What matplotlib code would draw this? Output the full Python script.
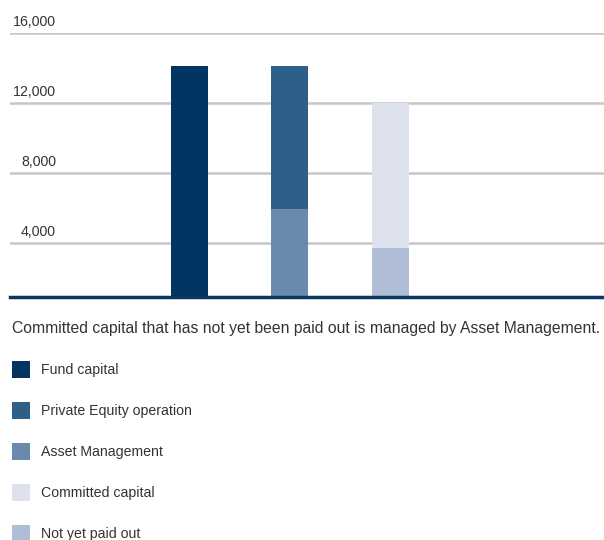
import matplotlib
matplotlib.use("Agg")
from matplotlib import pyplot as plt

# Valori
posizioni = [0, 1, 2]
fund_capital = [14100, 0, 0]
asset_management = [0, 5900, 0]
private_equity = [0, 8200, 0]
not_yet_paid = [0, 0, 3700]
committed_capital = [0, 0, 8300]
tick_valori = [4000, 8000, 12000, 16000]
tick_etichette = ["4,000", "8,000", "12,000", "16,000"]
didascalia = "Committed capital that has not yet been paid out is managed by Asset Management."

colori = {
    "Fund capital": "#023462",
    "Private Equity operation": "#2e5f88",
    "Asset Management": "#6a89ae",
    "Committed capital": "#dee2ed",
    "Not yet paid out": "#b0bdd6",
}

plt.rcParams["font.family"] = ["Liberation Sans", "DejaVu Sans"]

fig = plt.figure(figsize=(6.04, 5.40), dpi=100)
ax = fig.add_axes([10 / 604, (540 - 297) / 540, 594 / 604, (297 - 32.7) / 540])

larghezza = 0.368
b1 = ax.bar(posizioni, fund_capital, larghezza, color=colori["Fund capital"], zorder=3)
b3 = ax.bar(posizioni, asset_management, larghezza, color=colori["Asset Management"], zorder=3)
b2 = ax.bar(posizioni, private_equity, larghezza, bottom=asset_management,
            color=colori["Private Equity operation"], zorder=3)
b5 = ax.bar(posizioni, not_yet_paid, larghezza, color=colori["Not yet paid out"], zorder=3)
b4 = ax.bar(posizioni, committed_capital, larghezza, bottom=not_yet_paid,
            color=colori["Committed capital"], zorder=3)

ax.set_xlim(-1.786, 4.13)
ax.set_ylim(900, 16000)

# griglia orizzontale
for v in tick_valori:
    ax.axhline(v, color="#c6c6c6", linewidth=1.8, zorder=1)
for v, t in zip(tick_valori, tick_etichette):
    ax.annotate(t, xy=(46 / 594, v), xycoords=("axes fraction", "data"),
                xytext=(0, 12), textcoords="offset pixels",
                ha="right", va="center_baseline", fontsize=10.2, color="#333333")

for s in ["top", "right", "left"]:
    ax.spines[s].set_visible(False)
ax.spines["bottom"].set_color("#0a3660")
ax.spines["bottom"].set_linewidth(2.5)
ax.spines["bottom"].set_zorder(4)
ax.set_xticks([])
ax.set_yticks([])

fig.text(11.5 / 604, 1 - 328 / 540, didascalia, ha="left", va="center",
         fontsize=11.3, color="#333333")

maniglie = [b1, b2, b3, b4, b5]
nomi = ["Fund capital", "Private Equity operation", "Asset Management",
        "Committed capital", "Not yet paid out"]
fig.legend(maniglie, nomi, loc="upper left", bbox_to_anchor=(12 / 604, 1 - 360.5 / 540),
           frameon=False, fontsize=10.2, handlelength=1.3, handleheight=1.47,
           handletextpad=0.72, labelspacing=1.70, borderpad=0, borderaxespad=0,
           labelcolor="#333333")

plt.savefig("out.png", dpi=100)
